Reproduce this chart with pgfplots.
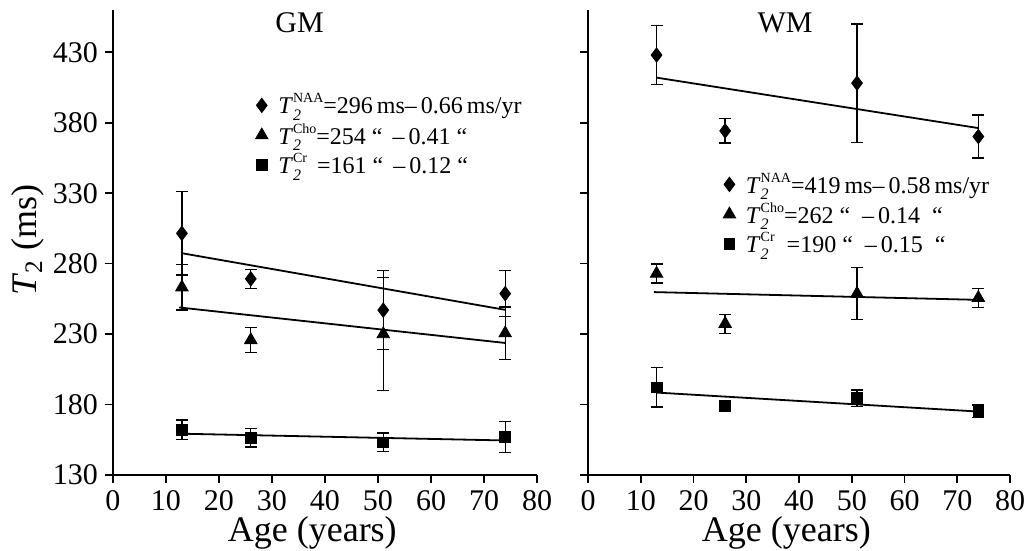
\documentclass[border=0pt]{standalone}
\usepackage{fontspec}
\setmainfont{Liberation Serif}
\usepackage{pgfplots}
\pgfplotsset{compat=1.18}

% T_2 with upper index, set in the text font
\newcommand{\Tt}[1]{\textit{T}\rlap{\raisebox{-0.6ex}{\fontsize{8}{8}\selectfont\textit{2}}}\raisebox{1.0ex}{\fontsize{7}{7}\selectfont #1}}

\pgfplotsset{
  panel/.style={
    scale only axis, width=212pt, height=232.5pt,
    xmin=0, xmax=80, ymin=130, ymax=460,
    axis lines=left, axis line style={line width=1pt,-},
    xtick={0,10,...,80}, ytick={130,180,...,430},
    tick align=outside, major tick length=4pt,
    tick style={line width=0.8pt, black},
    tick label style={font=\fontsize{15}{16}\selectfont},
    /pgf/number format/assume math mode=true,
    xlabel={Age (years)},
    xlabel style={font=\fontsize{18}{20}\selectfont, at={(axis description cs:0.47,0)}, anchor=north, yshift=-17pt},
    legend cell align=left,
    legend style={draw=none, fill=none, font=\fontsize{12}{15}\selectfont, row sep=-0.8pt},
    legend image code/.code={\draw[#1] plot coordinates {(0.2cm,0cm)}; \path[draw=none] (0cm,0cm) -- (0.42cm,0cm);},
    clip=false,
  },
  pts/.style={only marks, black, mark options={fill=black, solid},
    error bars/y dir=both, error bars/y explicit,
    error bars/error bar style={line width=0.7pt, black},
    error bars/error mark options={rotate=90, mark size=3pt, line width=0.7pt, black}},
  fit/.style={black, line width=0.9pt, no marks, forget plot},
}

\begin{document}
\begin{tikzpicture}
% ---------------- GM ----------------
\begin{axis}[panel,
  ylabel={\textit{T}\textsubscript{2} (ms)},
  ylabel style={font=\fontsize{18}{20}\selectfont, at={(axis description cs:-0.2,0.505)}, anchor=center},
  legend style={at={(axis description cs:0.309,0.838)}, anchor=north west},
]
\addplot+[pts, mark=diamond*, mark size=3.6pt] coordinates {
  (13,301.5) +- (0,29.5) (26,269.2) +- (0,6.7) (51,247) +- (0,28) (74,258.7) +- (0,16.3)};
\addlegendentry{\Tt{NAA}=296\,ms–\,0.66\,ms/yr}
\addplot+[pts, mark=triangle*, mark size=3.6pt] coordinates {
  (13,263.2) +- (0,16) (26,225.8) +- (0,8.7) (51,230) +- (0,40) (74,230.6) +- (0,18.5)};
\addlegendentry{\Tt{Cho}=254 “\ \,–\,0.41 “}
\addplot+[pts, mark=square*, mark size=2.7pt] coordinates {
  (13,162.1) +- (0,7) (26,156.6) +- (0,6.6) (51,153.2) +- (0,6.7) (74,157.1) +- (0,11)};
\addlegendentry{\Tt{Cr}\ \,=161 “\ \,–\,0.12 “}
\addplot[fit] coordinates {(13,287.4) (74,247.2)};
\addplot[fit] coordinates {(12.5,248.9) (74,223.7)};
\addplot[fit] coordinates {(13,159.3) (74,154.5)};
\node[font=\fontsize{15}{16}\selectfont] at (axis description cs:0.44,0.972) {GM};
\end{axis}

% ---------------- WM ----------------
\begin{axis}[panel, at={(237.5pt,0pt)}, width=211pt,
  yticklabels={},
  legend style={at={(axis description cs:0.293,0.668)}, anchor=north west},
]
\addplot+[pts, mark=diamond*, mark size=3.6pt] coordinates {
  (13,428) +- (0,21) (26,374.2) +- (0,8.6) (51,408.1) +- (0,42) (74,370.2) +- (0,15.3)};
\addlegendentry{\Tt{NAA}=419\,ms–\,0.58\,ms/yr}
\addplot+[pts, mark=triangle*, mark size=3.6pt] coordinates {
  (13,272.9) +- (0,6.7) (26,237.3) +- (0,6.7) (51,258.7) +- (0,18.5) (74,255.7) +- (0,6.7)};
\addlegendentry{\Tt{Cho}=262 “\ \ –\,0.14\ \ “}
\addplot+[pts, mark=square*, mark size=2.7pt] coordinates {
  (13,192.2) +- (0,14) (26,179) +- (0,4) (51,184.5) +- (0,5.8) (74,175.3) +- (0,4.5)};
\addlegendentry{\Tt{Cr}\ \ =190 “\ \ –\,0.15\ \ “}
\addplot[fit] coordinates {(13,412) (74,376.2)};
\addplot[fit] coordinates {(12.5,259.8) (75,254.2)};
\addplot[fit] coordinates {(13,188.5) (75,174.8)};
\node[font=\fontsize{15}{16}\selectfont] at (axis description cs:0.467,0.972) {WM};
\end{axis}

\pgfresetboundingbox
\path (-56.5pt,-38pt) rectangle (460.5pt,237.5pt);
\end{tikzpicture}
\end{document}
